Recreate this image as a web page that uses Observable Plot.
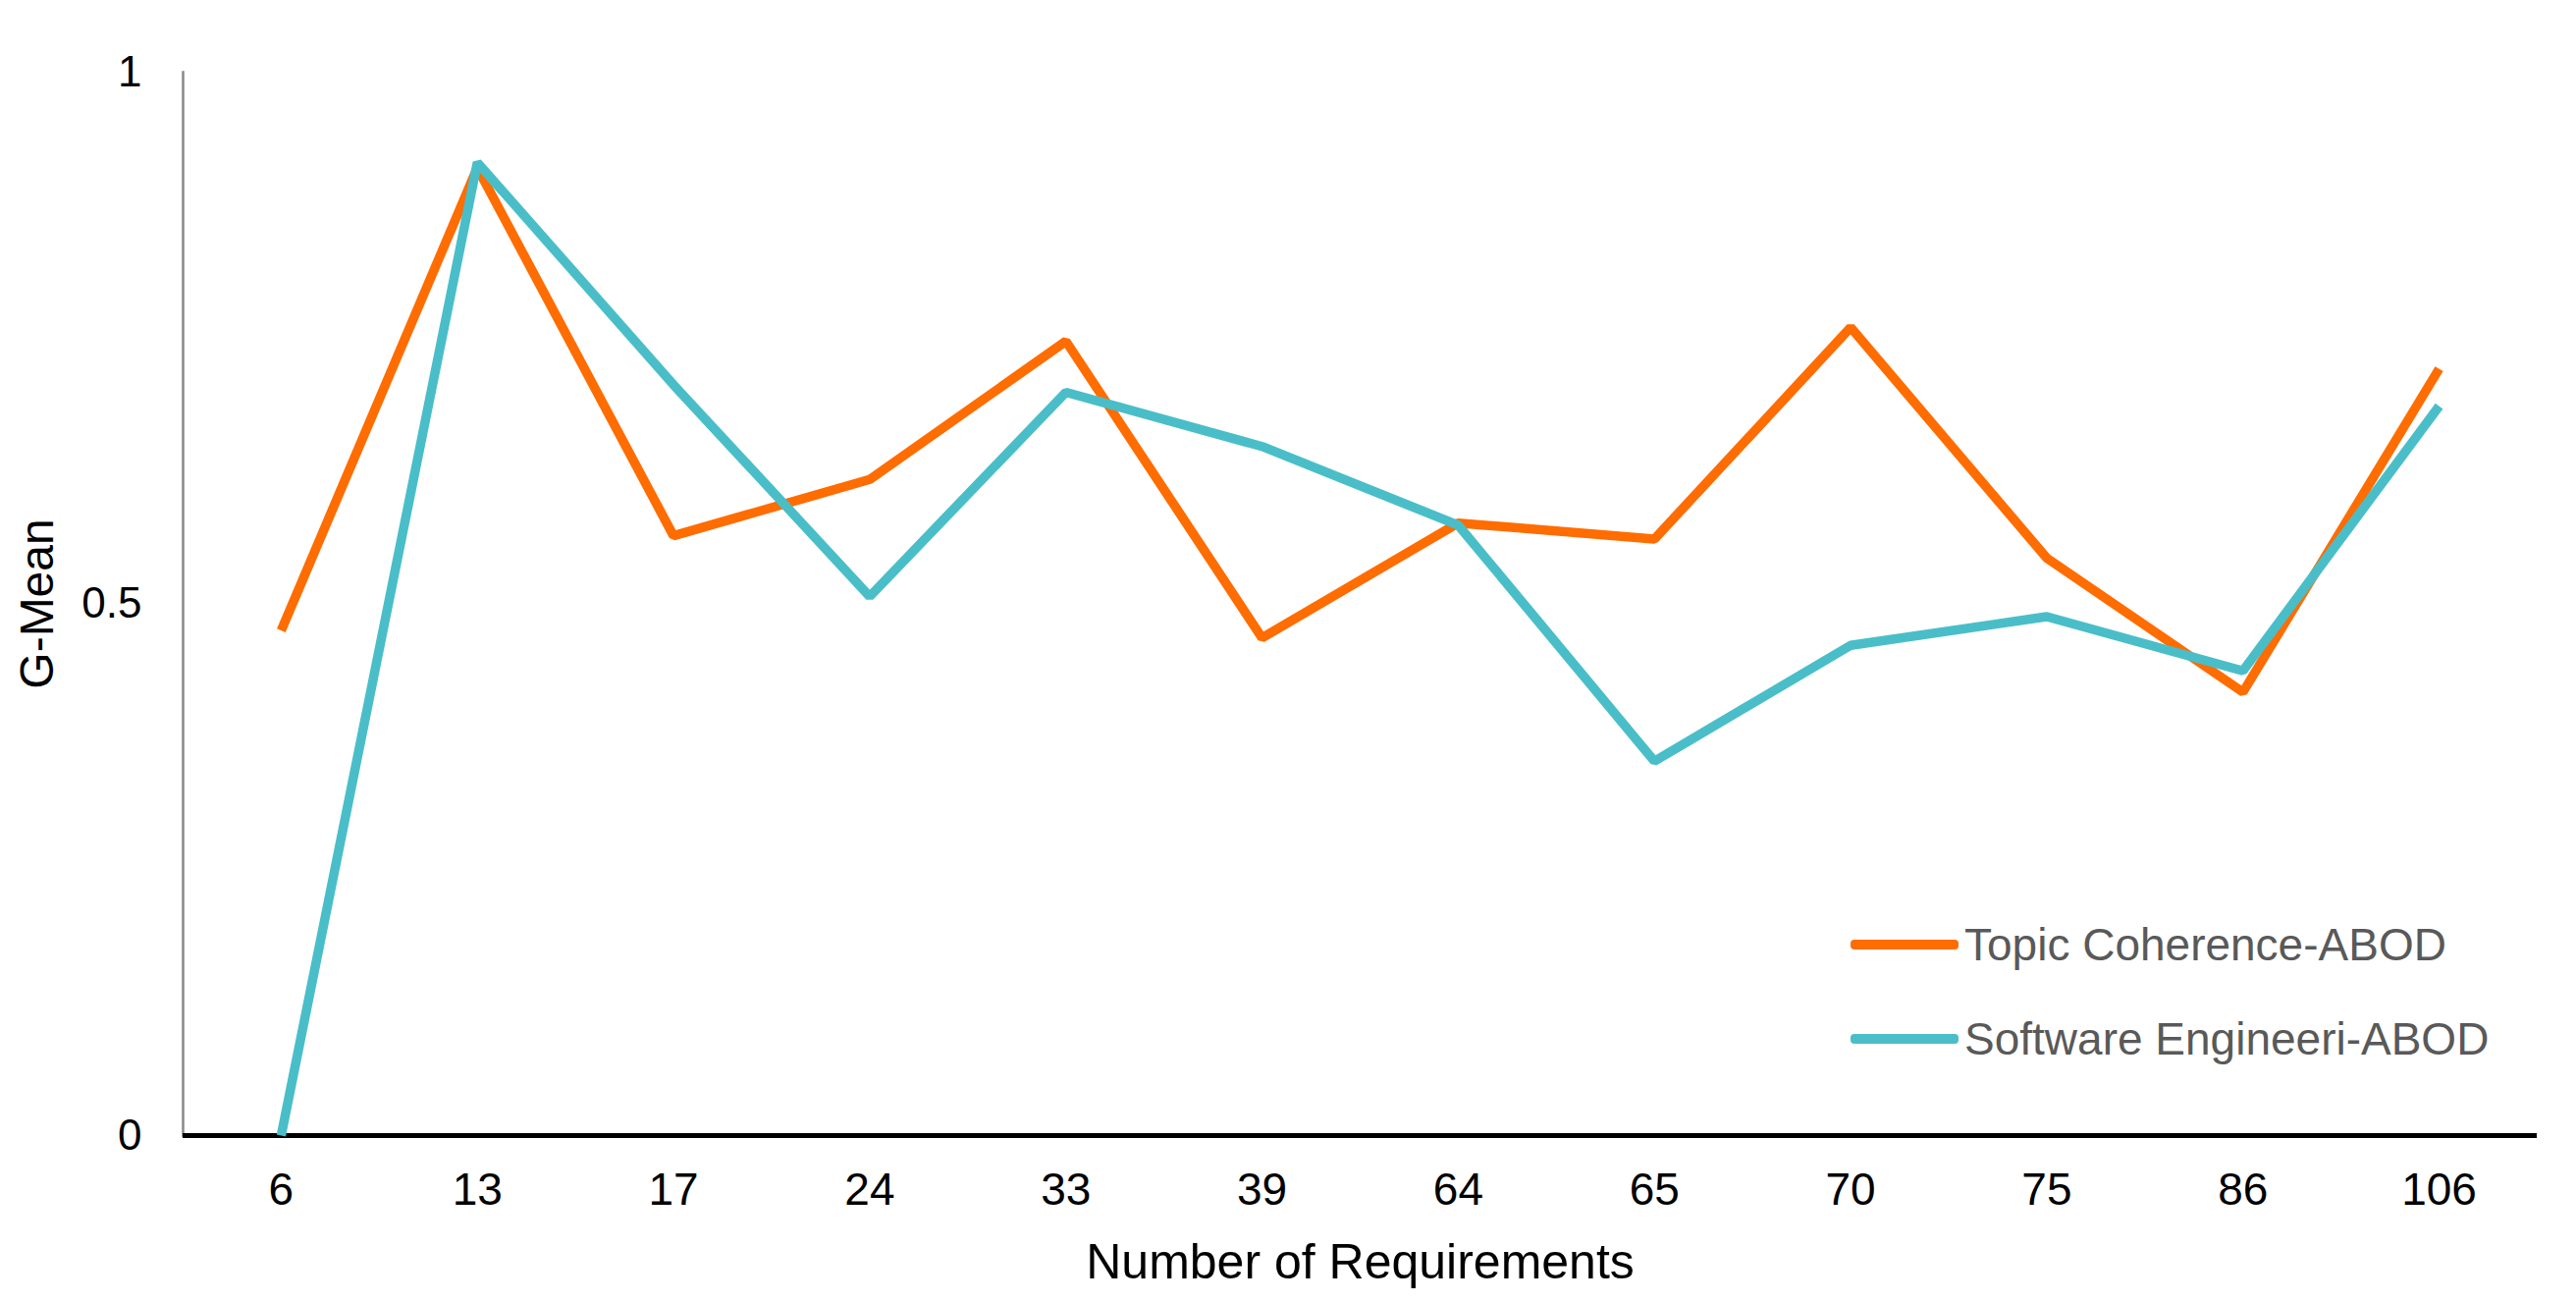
<!DOCTYPE html>
<html>
<head>
<meta charset="utf-8">
<script src="https://cdn.jsdelivr.net/npm/d3@7"></script>
<script src="https://cdn.jsdelivr.net/npm/@observablehq/plot@0.6"></script>
<style>
  html, body { margin: 0; padding: 0; background: #fff; }
  #wrap { position: relative; width: 2624px; height: 1326px; font-family: "Liberation Sans", Arial, sans-serif; }
  #legend { position: absolute; left: 1885px; top: 930px; font-size: 46px; color: #595959; }
  .item { display: flex; align-items: center; height: 64px; margin-bottom: 32px; }
  .sw { width: 110px; height: 10px; border-radius: 4px; margin-right: 6px; }
</style>
</head>
<body>
<div id="wrap"></div>
<script>
const categories = ["6", "13", "17", "24", "33", "39", "64", "65", "70", "75", "86", "106"];
const topicCoherence = [0.475, 0.91, 0.564, 0.617, 0.747, 0.468, 0.576, 0.561, 0.76, 0.543, 0.417, 0.721];
const softwareEng = [0.0, 0.915, 0.706, 0.507, 0.699, 0.648, 0.574, 0.352, 0.461, 0.488, 0.437, 0.686];
const seriesNames = ["Topic Coherence-ABOD", "Software Engineeri-ABOD"];
const seriesColors = ["#FF6C00", "#4ABEC8"];
const yTicks = [0, 0.5, 1];
const xTitle = "Number of Requirements";
const yTitle = "G-Mean";

const rows = [];
categories.forEach((c, i) => rows.push({cat: c, value: topicCoherence[i], series: seriesNames[0]}));
categories.forEach((c, i) => rows.push({cat: c, value: softwareEng[i], series: seriesNames[1]}));

const chart = Plot.plot({
  width: 2624,
  height: 1326,
  marginLeft: 186,
  marginRight: 40,
  marginTop: 73,
  marginBottom: 170,
  style: {fontFamily: '"Liberation Sans", Arial, sans-serif', fontSize: "46px", color: "#000", background: "#fff"},
  x: {type: "point", domain: categories, padding: 0.5, round: false},
  y: {domain: [0, 1]},
  color: {domain: seriesNames, range: seriesColors},
  marks: [
    Plot.frame({anchor: "left", stroke: "#888", strokeWidth: 2.5}),
    Plot.axisX({tickSize: 0, tickPadding: 38, fontSize: 46, label: null}),
    Plot.axisY({ticks: yTicks, tickSize: 0, tickPadding: 42, fontSize: 44, tickFormat: d => String(d), label: null}),
    Plot.text([xTitle], {frameAnchor: "bottom", text: d => d, fontSize: 50, lineAnchor: "middle", dy: 129}),
    Plot.text([yTitle], {frameAnchor: "left", text: d => d, fontSize: 48, rotate: -90, textAnchor: "middle", lineAnchor: "middle", dx: -148}),
    Plot.ruleY([0], {stroke: "#000", strokeWidth: 5}),
    Plot.line(rows, {x: "cat", y: "value", z: "series", stroke: "series", strokeWidth: 9.5, strokeLinejoin: "miter", strokeLinecap: "butt"})
  ]
});
document.getElementById("wrap").appendChild(chart);

const legend = document.createElement("div");
legend.id = "legend";
seriesNames.forEach((n, i) => {
  const it = document.createElement("div");
  it.className = "item";
  const sw = document.createElement("div");
  sw.className = "sw";
  sw.style.background = seriesColors[i];
  const t = document.createElement("span");
  t.textContent = n;
  it.appendChild(sw); it.appendChild(t);
  legend.appendChild(it);
});
document.getElementById("wrap").appendChild(legend);
</script>
</body>
</html>
